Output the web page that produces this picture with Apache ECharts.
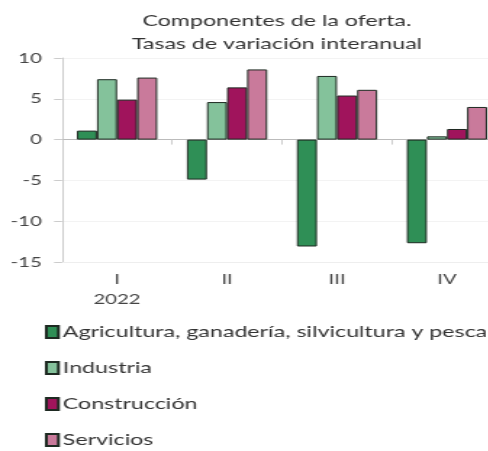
<!DOCTYPE html>
<html>
<head>
<meta charset="utf-8">
<script src="https://cdn.jsdelivr.net/npm/echarts@6/dist/echarts.min.js"></script>
<style>
html,body{margin:0;padding:0;background:#fff;overflow:hidden;}
/* the reference is stretched sideways, so draw narrow and widen it */
#chart{width:337px;height:451px;transform:scaleX(1.45);transform-origin:0 0;}
</style>
</head>
<body>
<div id="chart"></div>
<script>
// quarters of 2022
const quarters = ['I', 'II', 'III', 'IV']
const yearLabel = '2022'
const seriesNames = ['Agricultura, ganadería, silvicultura y pesca', 'Industria', 'Construcción', 'Servicios']
const agricultura = [1.1, -4.9, -13.1, -12.7]
const industria = [7.4, 4.6, 7.8, 0.4]
const construccion = [4.9, 6.4, 5.4, 1.3]
const servicios = [7.6, 8.6, 6.1, 4.0]
const colors = ['#2f8f56', '#84c29b', '#a0145c', '#c97a9b']

const chart = echarts.init(document.getElementById('chart'))
const font = 'Lato, "Open Sans", sans-serif'

function bar(name, data, color){
    return {
        name: name,
        type: 'bar',
        data: data,
        xAxisIndex: 0,
        barGap: '0%',
        barCategoryGap: '27%',
        itemStyle: {color: color, borderColor: '#1e2a22', borderWidth: 1},
        emphasis: {disabled: true}
    }
}

chart.setOption({
    animation: false,
    textStyle: {fontFamily: font},
    title: {
        text: 'Componentes de la oferta.\nTasas de variación interanual',
        left: 186,
        textAlign: 'center',
        top: 4,
        textStyle: {fontSize: 16, fontWeight: 'normal', color: '#333', lineHeight: 23, fontFamily: font}
    },
    color: colors,
    legend: {
        orient: 'vertical',
        left: 31,
        top: 324,
        padding: 0,
        itemGap: 20,
        itemWidth: 8.3,
        itemHeight: 12,
        icon: 'rect',
        textStyle: {fontSize: 16, color: '#333', lineHeight: 16, padding: [0, 0, 0, -2]},
        data: seriesNames
    },
    grid: {left: 42.8, top: 58, width: 303.4, height: 204, outerBoundsMode: 'none', containLabel: false},
    xAxis: [
        {
            type: 'category',
            data: quarters,
            position: 'bottom',
            axisLine: {onZero: false, lineStyle: {color: '#eeeeee'}},
            axisTick: {show: false},
            axisLabel: {
                fontSize: 14,
                color: '#444',
                margin: 7,
                lineHeight: 20,
                formatter: (v, i) => i === 0 ? v + '\n' + yearLabel : v
            }
        },
        {
            type: 'category',
            data: quarters,
            position: 'top',
            axisLine: {onZero: true, lineStyle: {color: '#bbbbbb'}},
            axisTick: {show: true, inside: true, length: 5, lineStyle: {color: '#cccccc'}},
            axisLabel: {show: false}
        }
    ],
    yAxis: {
        type: 'value',
        min: -15,
        max: 10,
        interval: 5,
        axisLine: {show: true, lineStyle: {color: '#cccccc'}},
        axisTick: {show: true, length: 5.5, lineStyle: {color: '#cccccc'}},
        axisLabel: {fontSize: 14, color: '#444', margin: 14},
        splitLine: {lineStyle: {color: '#f3f3f3'}}
    },
    series: [
        bar(seriesNames[0], agricultura, colors[0]),
        bar(seriesNames[1], industria, colors[1]),
        bar(seriesNames[2], construccion, colors[2]),
        bar(seriesNames[3], servicios, colors[3])
    ]
})
</script>
</body>
</html>
